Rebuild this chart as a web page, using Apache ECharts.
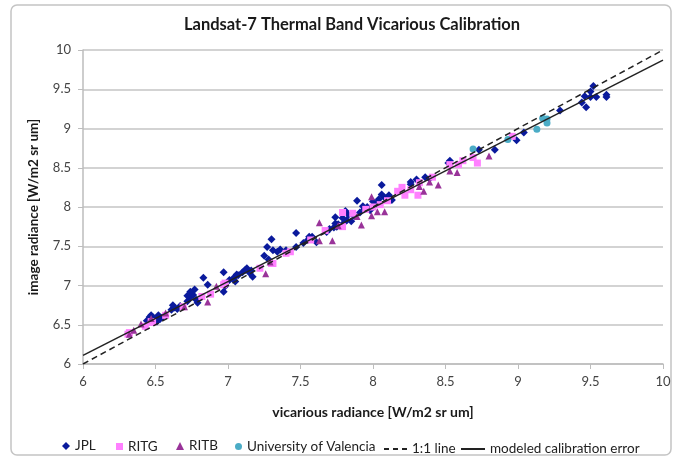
<!DOCTYPE html>
<html>
<head>
<meta charset="utf-8">
<script src="https://cdn.jsdelivr.net/npm/echarts@6/dist/echarts.min.js"></script>
<style>
html,body{margin:0;padding:0;background:#fff;}
#chart{width:682px;height:460px;}
</style>
</head>
<body>
<div id="chart"></div>
<script>
// ---- data (vicarious radiance, image radiance) ----
var jplData = [
  [6.44,6.55],[6.46,6.58],[6.48,6.60],[6.50,6.56],[6.52,6.62],[6.53,6.57],[6.55,6.60],[6.47,6.62],[6.51,6.54],[6.46,6.60],
  [6.61,6.69],[6.63,6.72],[6.65,6.70],[6.67,6.74],[6.62,6.75],
  [6.72,6.80],[6.74,6.85],[6.76,6.88],[6.78,6.82],[6.74,6.92],[6.79,6.78],[6.72,6.87],[6.77,6.95],
  [6.83,7.10],[6.86,7.01],[6.97,7.17],[6.97,6.92],[6.98,6.99],
  [7.01,7.07],[7.04,7.10],[7.07,7.13],[7.10,7.17],[7.12,7.20],[7.15,7.16],[7.05,7.05],
  [7.06,7.14],[7.13,7.22],[7.16,7.19],[7.17,7.11],
  [7.25,7.38],[7.27,7.49],[7.31,7.45],[7.34,7.43],[7.36,7.46],[7.28,7.33],[7.30,7.59],
  [7.40,7.45],[7.47,7.67],[7.47,7.49],
  [7.52,7.54],[7.55,7.58],[7.58,7.62],[7.61,7.55],[7.56,7.62],
  [7.68,7.68],[7.70,7.72],[7.73,7.74],[7.76,7.78],[7.80,7.80],[7.82,7.83],[7.74,7.79],
  [7.74,7.87],[7.75,7.75],
  [7.79,7.86],[7.83,7.90],[7.85,7.82],[7.87,7.89],[7.81,7.95],[7.89,8.08],
  [7.91,7.93],[7.94,7.97],[7.96,8.00],[7.98,7.96],[8.01,8.02],[8.03,8.05],[7.93,8.01],
  [8.00,8.07],[8.04,8.10],[8.08,8.12],[8.11,8.15],[8.13,8.09],[8.06,8.16],[8.06,8.28],
  [8.26,8.32],[8.30,8.35],[8.36,8.38],[8.39,8.36],[8.26,8.29],
  [8.52,8.56],[8.53,8.59],[8.73,8.73],[8.84,8.73],[8.99,8.85],[9.04,8.95],
  [9.29,9.23],[9.44,9.33],[9.47,9.27],[9.52,9.54],[9.50,9.47],[9.46,9.41],[9.50,9.40],[9.54,9.40],[9.61,9.43],[9.61,9.40]
];
var ritgData = [
  [6.31,6.38],[6.32,6.40],[6.43,6.48],[6.47,6.54],[6.48,6.53],[6.57,6.62],[6.69,6.73],[6.82,6.86],[6.88,6.89],
  [6.97,7.01],[6.98,7.03],[7.22,7.22],[7.30,7.28],[7.31,7.28],[7.40,7.41],[7.43,7.43],[7.57,7.58],[7.67,7.70],
  [7.79,7.75],[7.79,7.93],[7.86,7.92],[7.95,7.97],[8.00,8.00],[8.05,8.03],[8.10,8.08],
  [8.17,8.20],[8.22,8.15],[8.26,8.22],[8.20,8.25],[8.31,8.15],[8.32,8.31],[8.41,8.38],
  [8.53,8.54],[8.59,8.54],[8.62,8.59],[8.69,8.63],[8.72,8.56],[8.96,8.90]
];
var ritbData = [
  [6.32,6.38],[6.35,6.43],[6.40,6.51],[6.47,6.58],[6.57,6.65],[6.70,6.73],[6.86,6.79],[6.92,6.99],
  [7.26,7.15],[7.29,7.30],[7.63,7.80],[7.63,7.57],[7.72,7.57],[7.76,7.76],[7.92,7.77],[7.89,7.88],
  [7.99,7.89],[7.99,8.13],[8.03,7.94],[8.08,7.94],[8.32,8.26],[8.39,8.32],[8.45,8.28],[8.35,8.20],
  [8.53,8.46],[8.58,8.44],[8.80,8.65]
];
var valenciaData = [
  [8.69,8.74],[8.93,8.86],[9.13,8.99],[9.17,9.13],[9.20,9.12],[9.20,9.07]
];
var oneToOneX = [6, 10];
var oneToOneY = [6, 10];
var modeledX = [6, 10];
var modeledY = [6.11, 9.87];
var seriesNames = ['JPL','RITG','RITB','University of Valencia','1:1 line','modeled calibration error'];
var titleText = 'Landsat-7 Thermal Band Vicarious Calibration';
var xAxisTitle = 'vicarious radiance [W/m2 sr um]';
var yAxisTitle = 'image radiance [W/m2 sr um]';

function pairs(xs, ys){ return xs.map(function(x,i){ return [x, ys[i]]; }); }

var FONT = 'Lato, "Open Sans", sans-serif';
var LEG_CY = 443;
var legText = {fontFamily: FONT, fontSize: 13.5, color: '#222'};
function legendItem(name, left, w, h, icon){
  var d = icon ? {name: name, icon: icon} : name;
  return {data: [d], left: left, top: LEG_CY - h/2, padding: 0, itemWidth: w, itemHeight: h,
          textStyle: legText, selectedMode: false};
}

var chart = echarts.init(document.getElementById('chart'), null, {renderer:'canvas'});
chart.setOption({
  animation: false,
  backgroundColor: '#fff',
  textStyle: {fontFamily: FONT},
  graphic: [{
    type: 'rect', silent: true, z: -10,
    shape: {x: 11, y: 5, width: 660, height: 450, r: 6},
    style: {fill: '#fff', stroke: '#c4c4c4', lineWidth: 1.5}
  }],
  title: {
    text: titleText, left: 347, top: 11, textAlign: 'center',
    textStyle: {fontFamily: FONT, fontWeight: 'bold', fontSize: 16.5, color: '#1a1a1a'}
  },
  grid: {left: 83, right: 19, top: 50, bottom: 96, containLabel: false},
  xAxis: {
    type: 'value', min: 6, max: 10, interval: 0.5,
    name: xAxisTitle, nameLocation: 'middle', nameGap: 41,
    nameTextStyle: {fontFamily: FONT, fontWeight: 'bold', fontSize: 14, color: '#1a1a1a'},
    axisLine: {show: true, onZero: false, lineStyle: {color: '#bdbdbd', width: 1.5}},
    axisTick: {show: true, length: 5, lineStyle: {color: '#bdbdbd'}},
    axisLabel: {fontFamily: FONT, fontSize: 13, color: '#444', margin: 11},
    splitLine: {show: false}
  },
  yAxis: {
    type: 'value', min: 6, max: 10, interval: 0.5,
    name: yAxisTitle, nameLocation: 'middle', nameGap: 42, nameRotate: 90,
    nameTextStyle: {fontFamily: FONT, fontWeight: 'bold', fontSize: 13.5, color: '#1a1a1a'},
    axisLine: {show: true, onZero: false, lineStyle: {color: '#bdbdbd', width: 1.5}},
    axisTick: {show: true, length: 5, lineStyle: {color: '#bdbdbd'}},
    axisLabel: {fontFamily: FONT, fontSize: 13, color: '#444', margin: 12},
    splitLine: {show: true, lineStyle: {color: '#c4c4c4', width: 1.5}}
  },
  legend: [
    legendItem(seriesNames[0], 62, 8, 8),
    legendItem(seriesNames[1], 116, 7, 7),
    legendItem(seriesNames[2], 176, 8, 8),
    legendItem(seriesNames[3], 235, 7, 7),
    legendItem(seriesNames[4], 384, 23, 2, 'path://M0,0h5v2h-5zM9,0h5v2h-5zM18,0h5v2h-5z'),
    legendItem(seriesNames[5], 461, 24, 2, 'path://M0,0h24v2h-24z')
  ],
  series: [
    {name: seriesNames[0], type: 'scatter', data: jplData, symbol: 'diamond', symbolSize: 8,
     itemStyle: {color: '#0a1a9c', opacity: 1}},
    {name: seriesNames[1], type: 'scatter', data: ritgData, symbol: 'rect', symbolSize: 7,
     itemStyle: {color: '#ff80ff', opacity: 1}},
    {name: seriesNames[2], type: 'scatter', data: ritbData, symbol: 'triangle', symbolSize: 7,
     itemStyle: {color: '#993399', opacity: 1}},
    {name: seriesNames[3], type: 'scatter', data: valenciaData, symbol: 'circle', symbolSize: 7,
     itemStyle: {color: '#4bacc6', opacity: 1}},
    {name: seriesNames[4], type: 'line', data: pairs(oneToOneX, oneToOneY), symbol: 'none',
     lineStyle: {color: '#222', width: 1.5, type: [6,4]}, itemStyle: {color: '#222'}, z: 5},
    {name: seriesNames[5], type: 'line', data: pairs(modeledX, modeledY), symbol: 'none',
     lineStyle: {color: '#222', width: 1.5, type: 'solid'}, itemStyle: {color: '#222'}, z: 5}
  ]
});
</script>
</body>
</html>
